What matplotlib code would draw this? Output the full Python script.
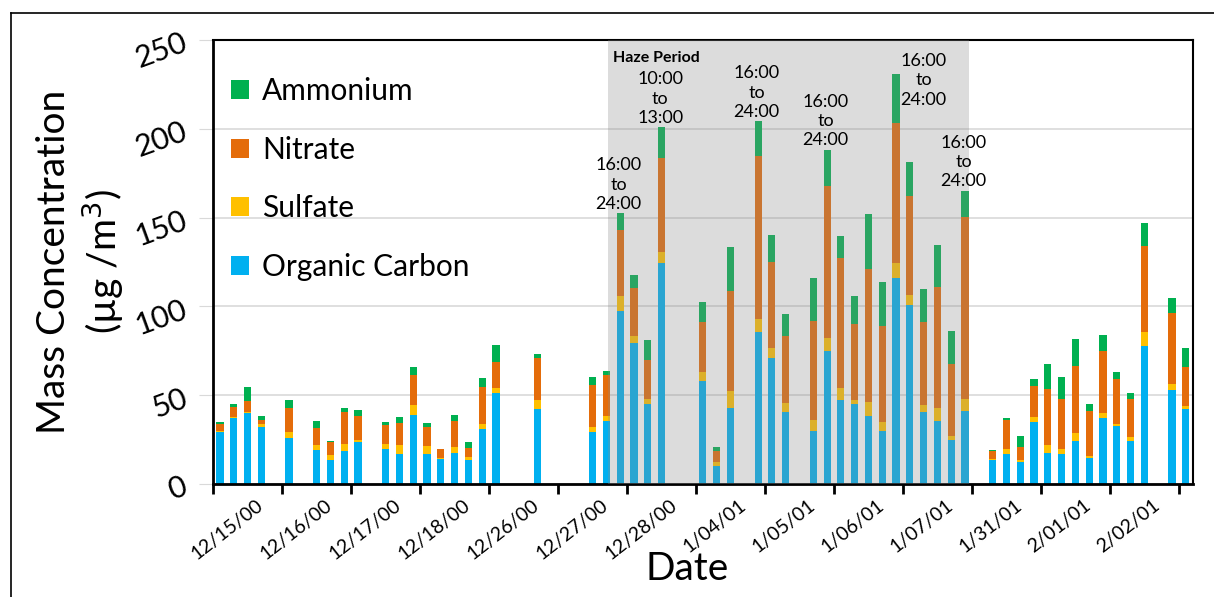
import matplotlib.pyplot as plt
from matplotlib.lines import Line2D
import numpy as np

plt.rcParams['font.family'] = ['Lato', 'DejaVu Sans']

# Stacked components per sampling slot (5 slots per date group, 0 = no sample)
oc = [29.2, 37.2, 39.8, 32.1, 0, 26.2, 0, 19.2, 13.6, 18.7, 23.6, 0, 19.6, 17.0, 39.2,
      17.0, 14.3, 17.7, 13.8, 30.8, 51.3, 0, 0, 42.3, 0, 0, 0, 29.6, 35.3, 97.4,
      79.5, 45.2, 124.7, 0, 0, 57.8, 10.0, 42.6, 0, 85.7, 71.0, 40.5, 0, 29.8, 74.8,
      47.5, 45.0, 38.6, 29.8, 116.0, 100.8, 40.7, 35.8, 25.0, 41.4, 0, 13.6, 16.8, 12.6,
      34.9, 17.4, 17.0, 24.5, 14.7, 37.2, 32.5, 24.2, 77.7, 0, 52.8, 42.1]
sulfate = [0.6, 0.5, 1.1, 1.9, 0, 3.4, 0, 2.9, 2.6, 4.1, 1.1, 0, 2.9, 4.9, 5.1,
           4.5, 0.4, 3.2, 1.7, 3.0, 3.0, 0, 0, 4.9, 0, 0, 0, 2.3, 2.8, 8.4,
           3.7, 2.6, 6.0, 0, 0, 5.1, 2.4, 10.1, 0, 7.5, 5.8, 5.1, 0, 6.5, 7.5,
           6.5, 2.5, 7.4, 5.0, 8.7, 5.4, 4.1, 6.8, 1.9, 6.4, 0, 0.6, 2.8, 1.0,
           2.8, 4.9, 2.6, 4.2, 1.1, 2.8, 1.5, 2.2, 8.0, 0, 3.6, 2.1]
nitrate = [4.2, 5.5, 5.7, 2.2, 0, 13.2, 0, 9.4, 7.6, 17.6, 13.6, 0, 10.7, 12.4, 17.2,
           10.4, 4.9, 14.4, 4.9, 20.9, 14.4, 0, 0, 23.6, 0, 0, 0, 23.8, 23.4, 37.3,
           27.3, 21.9, 52.7, 0, 0, 28.2, 6.4, 56.0, 0, 91.4, 48.4, 38.0, 0, 55.4, 85.3,
           73.5, 42.9, 74.9, 54.5, 78.7, 55.8, 46.2, 68.1, 40.9, 102.3, 0, 4.7, 16.6, 7.2,
           17.6, 31.3, 28.1, 37.7, 25.3, 34.9, 25.4, 21.5, 48.6, 0, 40.2, 21.8]
ammonium = [0.9, 1.9, 7.9, 2.3, 0, 4.4, 0, 3.8, 0.3, 2.6, 3.4, 0, 1.7, 3.6, 4.3,
            2.8, 0.2, 3.6, 3.4, 5.3, 9.4, 0, 0, 2.6, 0, 0, 0, 4.7, 2.3, 9.4,
            7.0, 11.3, 17.5, 0, 0, 11.2, 1.9, 25.0, 0, 19.7, 15.1, 11.9, 0, 24.5, 20.7,
            12.4, 15.6, 31.3, 24.6, 27.3, 19.4, 18.6, 23.8, 18.6, 15.1, 0, 0.3, 1.0, 6.4,
            3.8, 14.1, 12.7, 15.3, 3.8, 9.3, 3.8, 3.4, 12.9, 0, 8.1, 10.8]

dates = ['12/15/00', '12/16/00', '12/17/00', '12/18/00', '12/26/00', '12/27/00',
         '12/28/00', '1/04/01', '1/05/01', '1/06/01', '1/07/01', '1/31/01',
         '2/01/01', '2/02/01']

# time-window notes: (slot, text)
notes = [(29, '16:00\nto\n24:00'), (32, '10:00\nto\n13:00'), (39, '16:00\nto\n24:00'),
         (44, '16:00\nto\n24:00'), (49, '16:00\nto\n24:00'), (54, '16:00\nto\n24:00')]
haze_start, haze_end = 28.1, 54.3

c_oc, c_su, c_ni, c_am = '#00B0F0', '#FFC000', '#E46C0A', '#00B050'

oc = np.array(oc); sulfate = np.array(sulfate)
nitrate = np.array(nitrate); ammonium = np.array(ammonium)
x = np.arange(len(oc))
total = oc + sulfate + nitrate + ammonium

fig = plt.figure(figsize=(12.14, 5.97), dpi=100)
ax = fig.add_axes([0.1755, 0.189, 0.807, 0.744])

ax.set_axisbelow(True)
ax.yaxis.grid(True, color='#d9d9d9', lw=1.2)
w = 0.52
ax.bar(x, oc, w, color=c_oc, label='Organic Carbon', zorder=2)
ax.bar(x, sulfate, w, bottom=oc, color=c_su, label='Sulfate', zorder=2)
ax.bar(x, nitrate, w, bottom=oc + sulfate, color=c_ni, label='Nitrate', zorder=2)
ax.bar(x, ammonium, w, bottom=oc + sulfate + nitrate, color=c_am, label='Ammonium', zorder=2)

# haze period shading drawn over the bars
ax.axvspan(haze_start, haze_end, 0, 1, color='#8c8c8c', alpha=0.3, lw=0, zorder=3)
ax.text(haze_start + 0.35, 244, 'Haze Period', fontsize=11.5, fontweight='bold',
        va='top', ha='left', zorder=4)

for s, txt in notes:
    if s == 49:  # no room above the tallest bar, label sits to its right
        ax.text(s + 2, 212, txt, ha='center', va='bottom', fontsize=13,
                linespacing=1.25, zorder=4)
    else:
        ax.text(s - 0.1, total[s] + 0.8, txt, ha='center', va='bottom', fontsize=13,
                linespacing=1.25, zorder=4)

ax.set_xlim(-0.5, 70.5)
ax.set_ylim(0, 250)
ax.set_yticks(np.arange(0, 251, 50))
ax.tick_params(axis='y', length=10, color='#d9d9d9', labelsize=22, pad=6,
               labelrotation=20)

ax.set_xticks(np.arange(-0.5, 70, 5))
ax.set_xticklabels([])
ax.set_xticks(np.arange(len(dates)) * 5 + 2.6, minor=True)
ax.set_xticklabels(dates, minor=True, rotation=38, ha='right',
                   rotation_mode='anchor', fontsize=14)
ax.tick_params(axis='x', which='major', length=7, width=2, direction='out')
ax.tick_params(axis='x', which='minor', length=0, pad=9)

for side in ['left', 'bottom']:
    ax.spines[side].set_linewidth(2)
ax.spines['right'].set_linewidth(1.5)
ax.spines['top'].set_linewidth(1.5)

ax.set_xlabel('Date', fontsize=28)
ax.xaxis.set_label_coords(0.484, -0.15)
ax.set_ylabel('Mass Concentration\n(\u00b5g /m$^3$)', fontsize=28, linespacing=1.2,
              labelpad=4)

handles, labels = ax.get_legend_handles_labels()
ax.legend(handles[::-1], labels[::-1], loc='upper left', frameon=False,
          fontsize=21.5, handlelength=0.6, handleheight=0.6, handletextpad=0.45,
          labelspacing=1.02, bbox_to_anchor=(-0.003, 0.963), borderaxespad=0.3)

# outer frame of the figure
fig.add_artist(Line2D([11 / 1214, 11 / 1214], [0, 1 - 13 / 597], color='black', lw=1.2))
fig.add_artist(Line2D([11 / 1214, 1], [1 - 13 / 597, 1 - 13 / 597], color='black', lw=1.2))

fig.savefig('out.png', dpi=100)
